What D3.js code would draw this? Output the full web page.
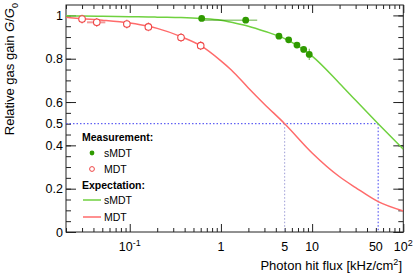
<!DOCTYPE html>
<html><head><meta charset="utf-8">
<script src="https://cdn.jsdelivr.net/npm/d3@7"></script>
<style>
html,body{margin:0;padding:0;background:#fff;}
svg{display:block;font-family:"Liberation Sans",Arial,Helvetica,sans-serif;}
</style></head>
<body><svg id="c" width="415" height="276"></svg>
<script>
// ---- data ----
const mdtFlux   = [0.030, 0.0435, 0.093, 0.16, 0.365, 0.60];
const mdtFluxLo = [0.030, 0.034, 0.093, 0.16, 0.365, 0.60];
const mdtFluxHi = [0.030, 0.054, 0.093, 0.16, 0.365, 0.60];
const mdtGain   = [0.983, 0.968, 0.960, 0.947, 0.898, 0.860];
const mdtGainErr= [0.020, 0.020, 0.020, 0.020, 0.020, 0.020];

const smdtFlux   = [0.615, 1.87, 4.33, 5.53, 6.82, 8.08, 9.3];
const smdtFluxLo = [0.58, 0.60, 4.05, 5.25, 6.50, 7.75, 8.95];
const smdtFluxHi = [0.65, 2.50, 4.60, 5.80, 7.15, 8.40, 9.65];
const smdtGain   = [0.986, 0.978, 0.904, 0.887, 0.863, 0.843, 0.820];
const smdtGainErr= [0.004, 0.004, 0.010, 0.010, 0.010, 0.014, 0.026];

const curveFlux    = [0.02, 0.03, 0.05, 0.1, 0.16, 0.2, 0.365, 0.6, 1, 1.3, 2, 3, 5, 10, 20, 30, 53, 100];
const mdtExpected  = [0.991, 0.985, 0.978, 0.965, 0.950, 0.940, 0.902, 0.860, 0.790, 0.748, 0.665, 0.590, 0.500, 0.365, 0.255, 0.205, 0.140, 0.097];
const smdtExpected = [0.998, 0.997, 0.996, 0.994, 0.993, 0.992, 0.990, 0.986, 0.978, 0.968, 0.950, 0.927, 0.893, 0.812, 0.686, 0.608, 0.500, 0.382];

const halfGain = 0.5;
const halfFlux = [5, 53];   // MDT, sMDT

const xTickValues = [0.1, 1, 5, 10, 50, 100];
const xTickBase   = ["10", "1", "5", "10", "50", "10"];
const xTickExp    = ["-1", "", "", "", "", "2"];
const yTickValues = [0, 0.2, 0.4, 0.5, 0.6, 0.8, 1];
const yTickLabels = ["0", "0.2", "0.4", "0.5", "0.6", "0.8", "1"];

// ---- style ----
const C = {
  smdtLine: "#6fd13f", smdtPoint: "#2f9a00",
  mdtLine: "#ff6b6b", mdtPoint: "#ef4646", mdtErr: "#f39a9a",
  guideA: "#9c9cd6", guideB: "#3c3cf0", axis: "#222"
};
const L = 66, R = 403.3, T = 5, B = 232;

const svg = d3.select("#c");
const x = d3.scaleLog().domain([0.02, 100]).range([L, R]);
const y = d3.scaleLinear().domain([0, 1.048]).range([B, T]);

// minor ticks
const xMinor = [];
[0.01, 0.1, 1, 10].forEach(d => { for (let k = 2; k <= 9; k++) { const v = d * k; if (v >= 0.02 && v <= 100) xMinor.push(+v.toPrecision(3)); } });
const xMajor = [0.1, 1, 10, 100];
const yMinor = d3.range(0, 21).map(i => +(i * 0.05).toFixed(2));
const yMajor = [0, 0.2, 0.4, 0.6, 0.8, 1];

function axisG(axis, tr) {
  const g = svg.append("g").attr("transform", tr).call(axis);
  g.select(".domain").remove();
  g.selectAll("line").attr("stroke", C.axis);
  g.selectAll("text").remove();
  return g;
}
axisG(d3.axisBottom(x).tickValues(xMajor).tickSize(-8), `translate(0,${B})`);
axisG(d3.axisBottom(x).tickValues(xMinor).tickSize(-4), `translate(0,${B})`);
axisG(d3.axisTop(x).tickValues(xMajor).tickSize(-8), `translate(0,${T})`);
axisG(d3.axisTop(x).tickValues(xMinor).tickSize(-4), `translate(0,${T})`);
axisG(d3.axisLeft(y).tickValues(yMajor).tickSize(-10), `translate(${L},0)`);
axisG(d3.axisLeft(y).tickValues(yMinor).tickSize(-5), `translate(${L},0)`);
axisG(d3.axisRight(y).tickValues(yMajor).tickSize(-10), `translate(${R},0)`);
axisG(d3.axisRight(y).tickValues(yMinor).tickSize(-5), `translate(${R},0)`);

svg.append("rect").attr("x", L).attr("y", T).attr("width", R - L).attr("height", B - T)
  .attr("fill", "none").attr("stroke", C.axis).attr("stroke-width", 1);

// tick labels
const xl = svg.append("g").attr("font-size", 12.5).attr("fill", "#000");
xTickValues.forEach((v, i) => {
  const t = xl.append("text").attr("x", x(v)).attr("y", 251).attr("text-anchor", "middle");
  t.append("tspan").text(xTickBase[i]);
  if (xTickExp[i]) t.append("tspan").attr("dy", -5).attr("font-size", 9).text(xTickExp[i]);
});
const yl = svg.append("g").attr("font-size", 12.5).attr("fill", "#000");
yTickValues.forEach((v, i) => {
  yl.append("text").attr("x", 63).attr("y", y(v)).attr("dy", "0.36em").attr("text-anchor", "end").text(yTickLabels[i]);
});

// axis titles
const xt = svg.append("text").attr("x", 402).attr("y", 270).attr("text-anchor", "end").attr("font-size", 13);
xt.append("tspan").text("Photon hit flux [kHz/cm");
xt.append("tspan").attr("dy", -5).attr("font-size", 9).text("2");
xt.append("tspan").attr("dy", 5).text("]");

const yt = svg.append("text").attr("transform", "translate(13.5,3) rotate(-90)").attr("text-anchor", "end").attr("font-size", 13);
yt.append("tspan").text("Relative gas gain ");
yt.append("tspan").attr("font-style", "italic").text("G");
yt.append("tspan").text("/");
yt.append("tspan").attr("font-style", "italic").text("G");
yt.append("tspan").attr("dy", 4).attr("font-size", 9).text("0");

// guide lines
svg.append("line").attr("x1", x(0.02)).attr("x2", x(halfFlux[1])).attr("y1", y(halfGain)).attr("y2", y(halfGain))
  .attr("stroke", C.guideB).attr("stroke-width", 1).attr("stroke-dasharray", "1.5,2");
svg.append("line").attr("x1", x(halfFlux[0])).attr("x2", x(halfFlux[0])).attr("y1", y(halfGain)).attr("y2", y(0))
  .attr("stroke", C.guideA).attr("stroke-width", 1).attr("stroke-dasharray", "1.5,2");
svg.append("line").attr("x1", x(halfFlux[1])).attr("x2", x(halfFlux[1])).attr("y1", y(halfGain)).attr("y2", y(0))
  .attr("stroke", C.guideB).attr("stroke-width", 1).attr("stroke-dasharray", "1.5,2");

// curves
const clip = svg.append("clipPath").attr("id", "clp").append("rect")
  .attr("x", L).attr("y", T).attr("width", R - L).attr("height", B - T);
const line = d3.line().x(d => x(d[0])).y(d => y(d[1])).curve(d3.curveMonotoneX);
svg.append("path").attr("d", line(curveFlux.map((f, i) => [f, mdtExpected[i]])))
  .attr("fill", "none").attr("stroke", C.mdtLine).attr("stroke-width", 1.5).attr("clip-path", "url(#clp)");
svg.append("path").attr("d", line(curveFlux.map((f, i) => [f, smdtExpected[i]])))
  .attr("fill", "none").attr("stroke", C.smdtLine).attr("stroke-width", 1.5).attr("clip-path", "url(#clp)");

// MDT points
const gm = svg.append("g");
mdtFlux.forEach((f, i) => {
  const cx = x(f), cy = y(mdtGain[i]);
  if (mdtFluxHi[i] > mdtFluxLo[i]) {
    gm.append("line").attr("x1", x(mdtFluxLo[i])).attr("x2", cx - 3.3).attr("y1", cy).attr("y2", cy).attr("stroke", C.mdtErr).attr("stroke-width", 2);
    gm.append("line").attr("x1", cx + 3.3).attr("x2", x(mdtFluxHi[i])).attr("y1", cy).attr("y2", cy).attr("stroke", C.mdtErr).attr("stroke-width", 2);
  }
  gm.append("line").attr("x1", cx).attr("x2", cx).attr("y1", y(mdtGain[i] + mdtGainErr[i])).attr("y2", cy - 3.3).attr("stroke", C.mdtPoint).attr("stroke-width", 1);
  gm.append("line").attr("x1", cx).attr("x2", cx).attr("y1", cy + 3.3).attr("y2", y(mdtGain[i] - mdtGainErr[i])).attr("stroke", C.mdtPoint).attr("stroke-width", 1);
  gm.append("circle").attr("cx", cx).attr("cy", cy).attr("r", 3.3).attr("fill", "#fff").attr("stroke", C.mdtPoint).attr("stroke-width", 1.1);
});

// sMDT points
const gs = svg.append("g");
smdtFlux.forEach((f, i) => {
  const cx = x(f), cy = y(smdtGain[i]);
  gs.append("line").attr("x1", x(smdtFluxLo[i])).attr("x2", x(smdtFluxHi[i])).attr("y1", cy).attr("y2", cy).attr("stroke", C.smdtPoint).attr("stroke-width", 1).attr("opacity", 0.75);
  gs.append("line").attr("x1", cx).attr("x2", cx).attr("y1", y(smdtGain[i] + smdtGainErr[i])).attr("y2", y(smdtGain[i] - smdtGainErr[i])).attr("stroke", C.smdtPoint).attr("stroke-width", 1).attr("opacity", 0.75);
  gs.append("circle").attr("cx", cx).attr("cy", cy).attr("r", 3.4).attr("fill", C.smdtPoint);
});

// legend
const lg = svg.append("g").attr("font-size", 10.5);
lg.append("text").attr("x", 82).attr("y", 140.5).attr("font-weight", "bold").text("Measurement:");
lg.append("circle").attr("cx", 92).attr("cy", 153).attr("r", 2.4).attr("fill", C.smdtPoint);
lg.append("text").attr("x", 104).attr("y", 157).text("sMDT");
lg.append("circle").attr("cx", 92).attr("cy", 169).attr("r", 2.4).attr("fill", "#fff").attr("stroke", C.mdtPoint).attr("stroke-width", 1);
lg.append("text").attr("x", 104).attr("y", 173).text("MDT");
lg.append("text").attr("x", 82).attr("y", 189).attr("font-weight", "bold").text("Expectation:");
lg.append("line").attr("x1", 83).attr("x2", 101).attr("y1", 200).attr("y2", 200).attr("stroke", C.smdtLine).attr("stroke-width", 1.5);
lg.append("text").attr("x", 104).attr("y", 204).text("sMDT");
lg.append("line").attr("x1", 83).attr("x2", 101).attr("y1", 217).attr("y2", 217).attr("stroke", C.mdtLine).attr("stroke-width", 1.5);
lg.append("text").attr("x", 104).attr("y", 221).text("MDT");
</script></body></html>
